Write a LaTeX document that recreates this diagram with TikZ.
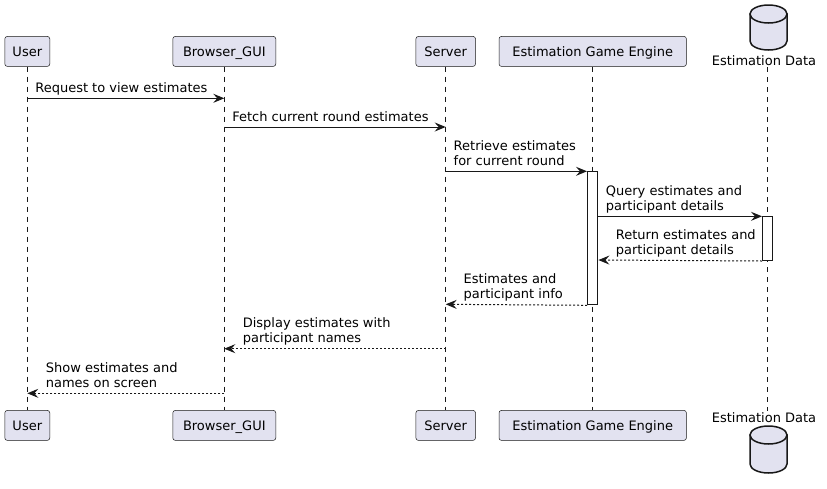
\documentclass[tikz,border=0pt]{standalone}
\usepackage{fontspec}
\setmainfont{DejaVu Sans}
\usetikzlibrary{arrows.meta,positioning}
\definecolor{partfill}{HTML}{E2E2F0}
\definecolor{umlline}{HTML}{181818}

\tikzset{
    part/.style={draw=umlline, line width=0.5pt, fill=partfill, rounded corners=2.5pt, minimum height=30pt, inner sep=0pt, text height=9.5pt, text depth=0pt, font=\fontsize{13}{15}\selectfont},
    lifeline/.style={draw=umlline, line width=0.5pt, dash pattern=on 5pt off 5pt},
    msg/.style={draw=umlline, line width=1pt, -{Stealth[length=11pt,width=9pt,inset=4pt]}},
    reply/.style={msg, dash pattern=on 2pt off 2pt},
    lbl/.style={anchor=south west, inner sep=0pt, align=left, text depth=0pt, font=\fontsize{13}{15}\selectfont},
    activ/.style={draw=umlline, line width=1pt, fill=white, inner sep=0pt, minimum width=10.4pt, anchor=north},
    dbshape/.style={draw=umlline, line width=1.5pt, fill=partfill},
    dblabel/.style={anchor=base, inner sep=0pt, font=\fontsize{13}{15}\selectfont}
}

\begin{document}
\begin{tikzpicture}[x=1pt, y=-1pt, on grid]
            \useasboundingbox (0,0) rectangle (827,488);

            \node (user) [part, minimum width=45pt] at (27.3,51.4) {User};
            \node (gui) [part, minimum width=103pt, right=197pt of user] {Browser\_GUI};
            \node (server) [part, minimum width=59.6pt, right=221.4pt of gui] {Server};
            \node (engine) [part, minimum width=187.4pt, right=147pt of server] {Estimation Game Engine};
            \node (dataT) [dblabel] at (764,65) {Estimation Data};

            \node (userB) [part, minimum width=45pt, below=374pt of user] {User};
            \node (guiB) [part, minimum width=103pt, below=374pt of gui] {Browser\_GUI};
            \node (serverB) [part, minimum width=59.6pt, below=374pt of server] {Server};
            \node (engineB) [part, minimum width=187.4pt, below=374pt of engine] {Estimation Game Engine};
            \node (dataB) [dblabel] at (764,422.7) {Estimation Data};

            % database symbols
            \draw[dbshape] (750,14) -- (750,41) arc[start angle=180, end angle=360, x radius=18.5pt, y radius=9pt] -- (787,14) -- cycle;
            \draw[dbshape] (768.5,14) ellipse [x radius=18.5pt, y radius=9pt];
            \draw[dbshape] (750,435) -- (750,464) arc[start angle=180, end angle=360, x radius=18.5pt, y radius=9pt] -- (787,435) -- cycle;
            \draw[dbshape] (768.5,435) ellipse [x radius=18.5pt, y radius=9pt];

            \coordinate (data) at (767.7,67);
            \coordinate (dataEnd) at (767.7,411);

            \coordinate (m1) at (0,98.3);
            \coordinate (m2) at (0,127);
            \coordinate (m3) at (0,171.3);
            \coordinate (m4) at (0,216.3);
            \coordinate (m5) at (0,260);
            \coordinate (m6) at (0,304.3);
            \coordinate (m7) at (0,348.7);
            \coordinate (m8) at (0,393.3);

            \draw[lifeline] (user.south) -- (userB.north);
            \draw[lifeline] (gui.south) -- (guiB.north);
            \draw[lifeline] (server.south) -- (serverB.north);
            \draw[lifeline] (engine.south) -- (engineB.north);
            \draw[lifeline] (data) -- (dataEnd);

            \node (act1) [activ, minimum height=133pt] at (engine |- m3) {};
            \node (act2) [activ, minimum height=43.7pt] at (data |- m4) {};

            \draw[msg] (user |- m1) -- (gui |- m1)
                node[lbl, at start, xshift=7.5pt, yshift=5.5pt] {Request to view estimates};
            \draw[msg] (gui |- m2) -- (server |- m2)
                node[lbl, at start, xshift=7.5pt, yshift=5.5pt] {Fetch current round estimates};
            \draw[msg] (server |- m3) -- (act1.north west)
                node[lbl, at start, xshift=7.5pt, yshift=5.5pt] {Retrieve estimates\\for current round};
            \draw[msg] (act1.east |- m4) -- (act2.north west)
                node[lbl, at start, xshift=7pt, yshift=5.5pt] {Query estimates and\\participant details};
            \draw[reply] (act2.south west) -- (act1.east |- m5)
                node[lbl, at end, xshift=17pt, yshift=5.5pt] {Return estimates and\\participant details};
            \draw[reply] (act1.south west) -- (server |- m6)
                node[lbl, at end, xshift=17.5pt, yshift=5.5pt] {Estimates and\\participant info};
            \draw[reply] (server |- m7) -- (gui |- m7)
                node[lbl, at end, xshift=18pt, yshift=5.5pt] {Display estimates with\\participant names};
            \draw[reply] (gui |- m8) -- (user |- m8)
                node[lbl, at end, xshift=18pt, yshift=5.5pt] {Show estimates and\\names on screen};

\end{tikzpicture}
\end{document}
